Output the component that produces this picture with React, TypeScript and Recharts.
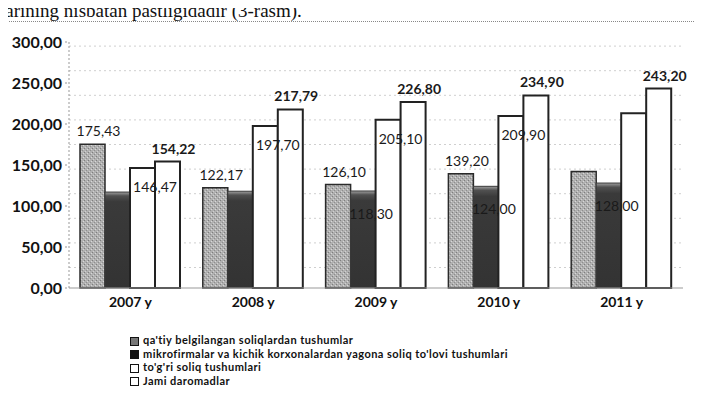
import React from "react";
import {
    BarChart,
    Bar,
    XAxis,
    YAxis,
    CartesianGrid,
    LabelList,
} from "recharts";

// values (3-rasm)
const categories = ["2007 y", "2008 y", "2009 y", "2010 y", "2011 y"];
const fixedTax = [175.43, 122.17, 126.1, 139.2, 142.0];
const microFirmTax = [117.0, 118.0, 118.3, 124.0, 128.0];
const directTax = [146.47, 197.7, 205.1, 209.9, 213.0];
const totalIncome = [154.22, 217.79, 226.8, 234.9, 243.2];

// which data labels are visible in the scan
const fixedTaxShown = [true, true, true, true, false];
const microShown = [false, false, true, true, true];
const directShown = [true, true, true, true, false];

const seriesNames = [
    "qa'tiy belgilangan soliqlardan tushumlar",
    "mikrofirmalar va kichik korxonalardan yagona soliq to'lovi tushumlari",
    "to'g'ri soliq tushumlari",
    "Jami daromadlar",
];

const yTicks = [0, 50, 100, 150, 200, 250, 300];
const gridValues = [
    5, 10, 15, 20, 25, 30, 35, 40, 45, 50, 55, 60, 65, 70, 75, 80, 85, 90, 95, 100,
    105, 110, 115, 120, 125, 130, 135, 140, 145, 150, 155, 160, 165, 170, 175, 180,
    185, 190, 195, 200, 205, 210, 215, 220, 225, 230, 235, 240, 245, 250, 255, 260,
    265, 270, 275, 280, 285, 290, 295,
];

const data = categories.map((c, i) => ({
    year: c,
    fixed: fixedTax[i],
    micro: microFirmTax[i],
    direct: directTax[i],
    total: totalIncome[i],
}));

const fmt = (v: number) => Number(v).toFixed(2).replace(".", ",");
const FONT = "Lato, 'Open Sans', sans-serif";

const makeLabel =
    (shown: boolean[] | null, place: "top" | "inside" | "edge", bold = false) =>
    (props: any) => {
        const { x, y, width, value, index } = props;
        if (shown && !shown[index]) return null;
        let lx = Number(x) + Number(width) / 2 + 6;
        let ly = Number(y) - 8;
        if (place === "inside") {
            lx = Number(x) + Number(width) / 2 + 8;
            ly = Number(y) + 28;
        }
        if (place === "edge") {
            lx = Number(x) + Number(width);
            ly = Number(y) + 24;
        }
        return (
            <text
                x={lx}
                y={ly}
                textAnchor="middle"
                fontFamily={FONT}
                fontSize={14}
                fontWeight={bold ? 700 : 400}
                fill="#1a1a1a"
            >
                {fmt(value)}
            </text>
        );
    };

const LegendBox = ({ kind }: { kind: number }) => {
    const base: React.CSSProperties = {
        display: "inline-block",
        width: 7,
        height: 7,
        border: "1.5px solid #111",
        marginRight: 4,
        verticalAlign: "middle",
        boxSizing: "content-box",
    };
    if (kind === 0) base.background = "#777";
    if (kind === 1) base.background = "#111";
    if (kind >= 2) base.background = "#fff";
    return <span style={base} />;
};

export default function App() {
    return (
        <div
            style={{
                position: "relative",
                width: 702,
                height: 405,
                margin: -8,
                background: "#fff",
                overflow: "hidden",
            }}
        >
            <div
                style={{
                    position: "absolute",
                    left: 0,
                    top: 1,
                    fontFamily: "'Liberation Serif', serif",
                    fontSize: 19,
                    lineHeight: "19px",
                    color: "#111",
                    whiteSpace: "nowrap",
                }}
            >
                larining nisbatan pastligidadir (3-rasm).
            </div>
            <div
                style={{
                    position: "absolute",
                    left: 7,
                    top: 21,
                    width: 720,
                    height: 420,
                    borderLeft: "1px dotted #888",
                    borderTop: "1px dotted #888",
                }}
            />
            <div style={{ position: "absolute", left: 0, top: 0 }}>
                <BarChart
                    width={702}
                    height={330}
                    data={data}
                    margin={{ top: 42, right: 19, left: 0, bottom: 12 }}
                    barGap={0}
                    barCategoryGap={11}
                >
                    <defs>
                        <pattern id="speckle" width="4" height="4" patternUnits="userSpaceOnUse">
                            <rect width="4" height="4" fill="#b0b0b0" />
                            <rect x="0" y="0" width="1" height="1" fill="#7e7e7e" />
                            <rect x="2" y="2" width="1" height="1" fill="#8e8e8e" />
                            <rect x="3" y="1" width="1" height="1" fill="#d8d8d8" />
                            <rect x="1" y="3" width="1" height="1" fill="#d0d0d0" />
                        </pattern>
                        <linearGradient id="darkTop" x1="0" y1="0" x2="0" y2="1">
                            <stop offset="0" stopColor="#a0a0a0" />
                            <stop offset="0.04" stopColor="#505050" />
                            <stop offset="0.1" stopColor="#3a3a3a" />
                            <stop offset="1" stopColor="#333" />
                        </linearGradient>
                    </defs>
                    <CartesianGrid
                        vertical={false}
                        horizontalValues={gridValues}
                        stroke="#cfcfcf"
                        strokeDasharray="2 3"
                    />
                    <XAxis
                        dataKey="year"
                        height={30}
                        tickSize={0}
                        tickMargin={9}
                        stroke="#999"
                        tick={{ fontFamily: FONT, fontSize: 14, fontWeight: 700, fill: "#111" }}
                    />
                    <YAxis
                        width={69}
                        domain={[0, 300]}
                        ticks={yTicks}
                        tickSize={4}
                        tickMargin={3}
                        stroke="#999"
                        strokeDasharray="2 2"
                        tickFormatter={fmt}
                        tick={{ fontFamily: FONT, fontSize: 16, fontWeight: 700, fill: "#111" }}
                    />
                    <Bar
                        dataKey="fixed"
                        fill="url(#speckle)"
                        stroke="#2a2a2a"
                        strokeWidth={1.5}
                        isAnimationActive={false}
                    >
                        <LabelList dataKey="fixed" content={makeLabel(fixedTaxShown, "top")} />
                    </Bar>
                    <Bar
                        dataKey="micro"
                        fill="url(#darkTop)"
                        stroke="#3a3a3a"
                        strokeWidth={1}
                        isAnimationActive={false}
                    >
                        <LabelList dataKey="micro" content={makeLabel(microShown, "inside")} />
                    </Bar>
                    <Bar
                        dataKey="direct"
                        fill="#fff"
                        stroke="#222"
                        strokeWidth={2}
                        isAnimationActive={false}
                    >
                        <LabelList dataKey="direct" content={makeLabel(directShown, "edge")} />
                    </Bar>
                    <Bar
                        dataKey="total"
                        fill="#fff"
                        stroke="#222"
                        strokeWidth={2}
                        isAnimationActive={false}
                    >
                        <LabelList dataKey="total" content={makeLabel(null, "top", true)} />
                    </Bar>
                </BarChart>
            </div>
            <div
                style={{
                    position: "absolute",
                    left: 130,
                    top: 333,
                    fontFamily: FONT,
                    fontSize: 11,
                    fontWeight: 700,
                    letterSpacing: 0.45,
                    color: "#111",
                    lineHeight: "13.5px",
                }}
            >
                {seriesNames.map((n, i) => (
                    <div key={n} style={{ whiteSpace: "nowrap" }}>
                        <LegendBox kind={i} />
                        {n}
                    </div>
                ))}
            </div>
        </div>
    );
}
